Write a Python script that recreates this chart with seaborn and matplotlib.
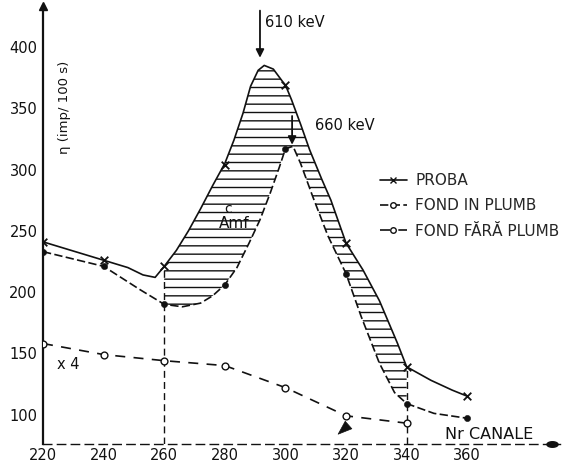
import numpy as np
import pandas as pd
import matplotlib
matplotlib.use("Agg")
import matplotlib.pyplot as plt
import seaborn as sns
from matplotlib.lines import Line2D
from matplotlib.legend_handler import HandlerLine2D

# Measured channels and counts (impulses / 100 s)
channels = [220, 240, 260, 280, 300, 320, 340, 360]
proba = [241, 226, 221, 304, 369, 240, 139, 115]
fond_in_plumb = [233, 221, 190, 206, 317, 215, 109, 97]
fara_channels = [220, 240, 260, 280, 300, 320, 340]
fond_fara_plumb_x4 = [158, 149, 144, 140, 122, 99, 93]

# Hand-drawn curves through the measurements
proba_curve_ch = [220, 240, 248, 253, 257, 260, 264, 268, 272, 276, 280, 283,
                  286, 288.5, 291, 293, 296, 299, 300, 302, 305, 308, 312,
                  315, 320, 325.6, 331, 337, 340, 348, 355, 360]
proba_curve = [241, 226, 220, 214, 212, 221, 234, 250, 268, 287, 305, 324,
               346, 368, 381, 385, 382, 372, 369, 357, 337, 316, 292,
               275, 240, 218, 193, 158, 139, 128, 120, 115]
plumb_curve_ch = [220, 240, 252, 260, 266, 272, 276, 280, 284, 288, 291.6, 295,
                  298, 300, 302.5, 305, 309, 314, 320, 325, 331, 336, 340,
                  349, 360]
plumb_curve = [233, 221, 202, 190, 188, 191, 197, 206, 220, 240, 259, 281,
               302, 317, 319, 305, 278, 246, 215, 180, 142, 118, 109,
               101, 97]

y_ticks = [100, 150, 200, 250, 300, 350, 400]
x_ticks = [220, 240, 260, 280, 300, 320, 340, 360]

sns.set_theme(style="white")
plt.rcParams["font.family"] = ["DejaVu Sans"]

fig = plt.figure(figsize=(5.76, 4.68), dpi=100)
ax = fig.add_axes([43 / 576, 24 / 468, 517 / 576, 438 / 468])
ax.set_xlim(220, 390.6)
ax.set_ylim(76, 433.5)

ink = "#111111"
lw = 1.2
fs = 10.5
dash_plumb = (0, (5, 2))
dash_fara = (0, (6, 5))

# Hatched area between sample and lead-shielded background (260-340)
hatch_ch = [c for c in proba_curve_ch if 260 <= c <= 340]
hatch_top = [v for c, v in zip(proba_curve_ch, proba_curve) if 260 <= c <= 340]
hatch_bot_ch = [c for c in plumb_curve_ch if 260 <= c <= 340][::-1]
hatch_bot = [v for c, v in zip(plumb_curve_ch, plumb_curve) if 260 <= c <= 340][::-1]
ax.fill(hatch_ch + hatch_bot_ch, hatch_top + hatch_bot, fill=False,
        hatch="--", edgecolor=ink, linewidth=0)

# Curves
sns.lineplot(x=proba_curve_ch, y=proba_curve, sort=False, estimator=None,
             color=ink, linewidth=lw, ax=ax)
sns.lineplot(x=plumb_curve_ch, y=plumb_curve, sort=False, estimator=None,
             color=ink, linewidth=lw, linestyle=dash_plumb, ax=ax)
sns.lineplot(x=fara_channels, y=fond_fara_plumb_x4, sort=False, estimator=None,
             color=ink, linewidth=lw, linestyle=dash_fara, ax=ax)

# Measurement markers
sns.scatterplot(x=channels, y=proba, marker="x", color=ink, s=30,
                linewidth=1.3, ax=ax, zorder=4)
sns.scatterplot(x=channels, y=fond_in_plumb, marker="o", color=ink,
                edgecolor=ink, s=20, ax=ax, zorder=4)
sns.scatterplot(x=fara_channels, y=fond_fara_plumb_x4, marker="o",
                color="white", edgecolor=ink, linewidth=1.0, s=24, ax=ax,
                zorder=4)

# Channel boundaries of the integrated area
ax.vlines([channels[2], channels[6]], 76, [proba[2], proba[6]], colors=ink,
          linestyles=(0, (5, 3)), linewidth=1.0)

# Axes
for side in ("top", "right"):
    ax.spines[side].set_visible(False)
ax.spines["left"].set_color(ink)
ax.spines["left"].set_linewidth(1.6)
ax.spines["bottom"].set_color(ink)
ax.spines["bottom"].set_linewidth(1.0)
ax.spines["bottom"].set_linestyle((0, (6, 4)))
ax.plot([0], [1.0], marker="^", color=ink, markersize=6,
        transform=ax.transAxes, clip_on=False)
t = np.linspace(0, 2 * np.pi, 30)
oval = np.column_stack([np.cos(t), 0.5 * np.sin(t)])
ax.plot([0.985], [0], marker=oval, color=ink, markersize=8,
        transform=ax.transAxes, clip_on=False)

ax.set_xticks(x_ticks)
ax.set_xticklabels([str(v) for v in x_ticks])
ax.set_yticks(y_ticks)
ax.set_yticklabels([str(v) for v in y_ticks])
ax.tick_params(axis="x", direction="in", length=8, width=1, color=ink,
               labelsize=fs, pad=3, labelcolor=ink)
ax.tick_params(axis="y", direction="in", length=5, width=1, color=ink,
               labelsize=fs, pad=4, labelcolor=ink)
ax.grid(False)

# Annotations
ax.annotate("", xy=(291.6, 389), xytext=(291.6, 432),
            arrowprops=dict(arrowstyle="-|>", color=ink, lw=1.3,
                            mutation_scale=12))
ax.text(293.3, 420, "610 keV", fontsize=fs, color=ink, va="center",
        ha="left")
ax.annotate("", xy=(302.2, 318), xytext=(302.2, 346),
            arrowprops=dict(arrowstyle="-|>", color=ink, lw=1.3,
                            mutation_scale=12))
ax.text(309.8, 336, "660 keV", fontsize=fs, color=ink, va="center",
        ha="left")
ax.text(283, 256, "Amf", fontsize=11, color=ink, ha="center", va="center")
ax.text(281, 268, "c", fontsize=10, color=ink, ha="center", va="center")
ax.text(224.6, 141, "x 4", fontsize=fs, color=ink, ha="left", va="center")
ax.text(352.7, 84, "Nr CANALE", fontsize=11.5, color=ink, ha="left",
        va="center")
ax.text(227, 351, "η (imp/ 100 s)", fontsize=9.5, color=ink, rotation=90,
        ha="center", va="center")
# pen pointer under channel 320
ax.annotate("", xy=(316.7, 82.5), xytext=(321.5, 93),
            arrowprops=dict(arrowstyle="wedge,tail_width=0.6,shrink_factor=0.5",
                            color=ink, lw=0.5))


class StartMarkerHandler(HandlerLine2D):
    def get_xdata(self, legend, xdescent, ydescent, width, height, fontsize):
        xdata, _ = super().get_xdata(legend, xdescent, ydescent, width,
                                     height, fontsize)
        return xdata, [xdata[0]]


handles = [
    Line2D([], [], color=ink, lw=lw, marker="x", markersize=5),
    Line2D([], [], color=ink, lw=lw, linestyle=dash_plumb, marker="o",
           markersize=4, markerfacecolor="white"),
    Line2D([], [], color=ink, lw=lw, linestyle=dash_fara, marker="o",
           markersize=4, markerfacecolor="white"),
]
labels = ["PROBA", "FOND IN PLUMB", "FOND FĂRĂ PLUMB"]
ax.legend(handles, labels, loc="upper left", bbox_to_anchor=(0.652, 0.619),
          frameon=False, fontsize=11, borderpad=0, borderaxespad=0,
          handlelength=1.75, handletextpad=0.55, labelspacing=0.68,
          numpoints=1, handler_map={Line2D: StartMarkerHandler(numpoints=1)})

fig.savefig("out.png", dpi=100)
